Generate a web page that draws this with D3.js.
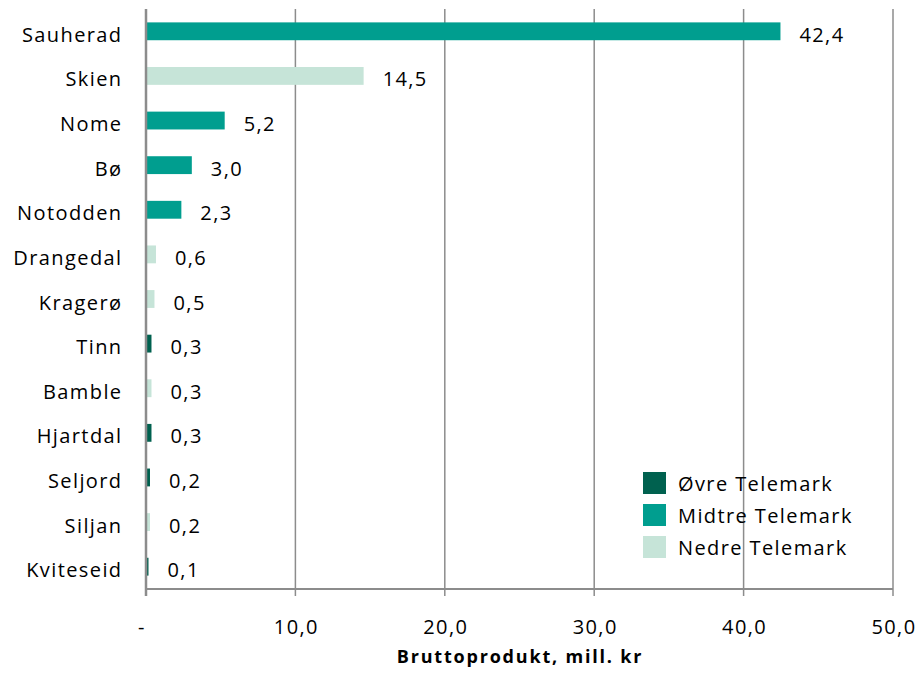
<!DOCTYPE html>
<html><head><meta charset="utf-8">
<script src="https://cdn.jsdelivr.net/npm/d3@7"></script>
<style>body{margin:0;background:#fff}svg{display:block}text{font-family:"Open Sans",sans-serif;fill:#000;letter-spacing:1.4px}</style>
</head><body><svg id="c" width="922" height="679"></svg>
<script>
const categories = ["Sauherad","Skien","Nome","Bø","Notodden","Drangedal","Kragerø","Tinn","Bamble","Hjartdal","Seljord","Siljan","Kviteseid"];
const values = [42.4,14.5,5.2,3.0,2.3,0.6,0.5,0.3,0.3,0.3,0.2,0.2,0.1];
const regions = ["Midtre","Nedre","Midtre","Midtre","Midtre","Nedre","Nedre","Øvre","Nedre","Øvre","Øvre","Nedre","Øvre"];
const seriesNames = ["Øvre","Midtre","Nedre"];
const seriesLabels = ["Øvre Telemark","Midtre Telemark","Nedre Telemark"];
const seriesColors = ["#00614f","#009e8f","#c6e4d8"];
const xTicks = [0,10,20,30,40,50];
const xTickLabels = ["-","10,0","20,0","30,0","40,0","50,0"];
const axisTitle = "Bruttoprodukt, mill. kr";

const svg = d3.select("#c");
const L = 146, R = 893, T = 9, B = 589;
const x = d3.scaleLinear().domain([0,50]).range([L,R]);
const y = d3.scaleBand().domain(categories).range([T,B]).paddingInner(0.6).paddingOuter(0.3);
const color = d3.scaleOrdinal().domain(seriesNames).range(seriesColors);
const FS = 20;

// gridlines
svg.append("g").selectAll("line").data(xTicks.slice(1)).join("line")
  .attr("x1",d=>x(d)).attr("x2",d=>x(d)).attr("y1",T).attr("y2",B+7)
  .attr("stroke","#8c8c8c").attr("stroke-width",1.5);

// bars
const data = categories.map((c,i)=>({c,v:values[i],r:regions[i]}));
svg.append("g").selectAll("rect").data(data).join("rect")
  .attr("x",x(0)+1).attr("y",d=>y(d.c)).attr("height",y.bandwidth())
  .attr("width",d=>x(d.v)-x(0)).attr("fill",d=>color(d.r));

// value labels
svg.append("g").selectAll("text").data(data).join("text")
  .attr("x",d=>x(d.v)+20).attr("y",d=>y(d.c)+y.bandwidth()/2+10.5)
  .attr("font-size",FS).text(d=>d3.format(".1f")(d.v).replace(".",","));

// axes lines
svg.append("line").attr("x1",L).attr("x2",L).attr("y1",T).attr("y2",B+7).attr("stroke","#8c8c8c").attr("stroke-width",2.5);
svg.append("line").attr("x1",L).attr("x2",R).attr("y1",B).attr("y2",B).attr("stroke","#8c8c8c").attr("stroke-width",2);

// category labels
svg.append("g").selectAll("text").data(categories).join("text")
  .attr("x",122.5).attr("y",d=>y(d)+y.bandwidth()/2+10.5)
  .attr("text-anchor","end").attr("font-size",FS).text(d=>d);

// x tick labels
svg.append("g").selectAll("text").data(xTicks).join("text")
  .attr("x",(d,i)=>i===0?x(d)-4:x(d)+1).attr("y",634)
  .attr("text-anchor","middle").attr("font-size",FS).text((d,i)=>xTickLabels[i]);

svg.append("text").attr("x",520).attr("y",663).attr("text-anchor","middle")
  .attr("font-size",18).attr("font-weight","bold").style("letter-spacing","1.8px").text(axisTitle);

// legend
const lg = svg.append("g").selectAll("g").data(seriesNames).join("g")
  .attr("transform",(d,i)=>`translate(643,${472+i*32})`);
lg.append("rect").attr("width",23).attr("height",22).attr("fill",d=>color(d));
lg.append("text").attr("x",35).attr("y",18.5).attr("font-size",FS).text((d,i)=>seriesLabels[i]);
</script></body></html>
